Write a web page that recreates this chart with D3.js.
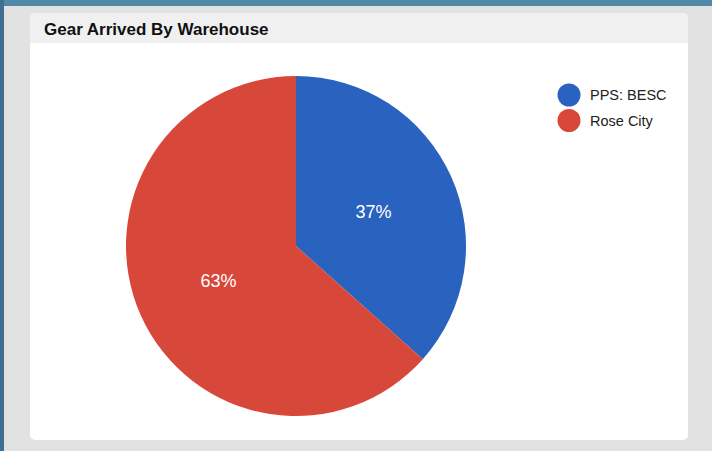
<!DOCTYPE html>
<html>
<head>
<meta charset="utf-8">
<script src="https://cdn.jsdelivr.net/npm/d3@7"></script>
<style>
  body { margin: 0; background: #e2e2e2; font-family: "Liberation Sans", Arial, sans-serif; }
</style>
</head>
<body>
<svg id="chart" width="712" height="451"></svg>
<script>
const categories = ['PPS: BESC', 'Rose City'];
const values = [36.6, 63.4];
const colors = ['#2a63bf', '#d8483a'];

const svg = d3.select('#chart');

// page frame
svg.append('rect').attr('x', 0).attr('y', 0).attr('width', 712).attr('height', 451).attr('fill', '#e2e2e2');
svg.append('rect').attr('x', 0).attr('y', 0).attr('width', 712).attr('height', 6).attr('fill', '#5188a8');
svg.append('rect').attr('x', 0).attr('y', 0).attr('width', 4).attr('height', 451).attr('fill', '#3f6f90');

// card
svg.append('rect')
  .attr('x', 30).attr('y', 13).attr('width', 658).attr('height', 427)
  .attr('rx', 5).attr('fill', '#ffffff');
svg.append('path')
  .attr('d', 'M30,43 V18 Q30,13 35,13 H683 Q688,13 688,18 V43 Z')
  .attr('fill', '#f0f0f0');
svg.append('text')
  .attr('x', 44).attr('y', 35)
  .attr('font-size', 17).attr('font-weight', 'bold').attr('fill', '#111')
  .text('Gear Arrived By Warehouse');

// pie
const cx = 296, cy = 246, r = 170;
const total = d3.sum(values);
const pie = d3.pie().sort(null).value(d => d.value);
const arc = d3.arc().innerRadius(0).outerRadius(r);
const data = pie(categories.map((c, i) => ({ name: c, value: values[i], color: colors[i] })));

const g = svg.append('g').attr('transform', `translate(${cx},${cy})`);
g.selectAll('path')
  .data(data)
  .enter().append('path')
  .attr('d', arc)
  .attr('fill', d => d.data.color);

g.selectAll('text')
  .data(data)
  .enter().append('text')
  .attr('transform', d => `translate(${arc.centroid(d)})`)
  .attr('text-anchor', 'middle')
  .attr('dy', '0.35em')
  .attr('font-size', 18)
  .attr('fill', '#ffffff')
  .text(d => Math.round(d.data.value / total * 100) + '%');

// legend
const legend = svg.append('g')
  .selectAll('g')
  .data(data)
  .enter().append('g')
  .attr('transform', (d, i) => `translate(569,${95 + i * 25.5})`);
legend.append('circle').attr('r', 11.5).attr('fill', d => d.data.color);
legend.append('text')
  .attr('x', 21).attr('dy', '0.35em')
  .attr('font-size', 14.5).attr('fill', '#222')
  .text(d => d.data.name);
</script>
</body>
</html>
